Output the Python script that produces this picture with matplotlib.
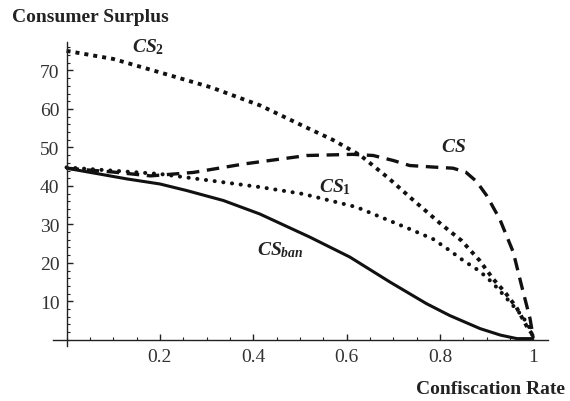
import numpy as np
import matplotlib
matplotlib.use('Agg')
import matplotlib.pyplot as plt
from matplotlib.ticker import MultipleLocator, FixedLocator

plt.rcParams['font.family'] = ['Liberation Serif', 'DejaVu Serif']
plt.rcParams['mathtext.fontset'] = 'custom'
plt.rcParams['mathtext.it'] = 'Liberation Serif:italic:bold'
plt.rcParams['mathtext.rm'] = 'Liberation Serif:bold'
plt.rcParams['lines.scale_dashes'] = False

# curves
cs2_x = [0.0, 0.1, 0.2, 0.31, 0.415, 0.51, 0.57, 0.63, 0.69, 0.74, 0.802, 0.846, 0.885, 0.914, 0.939, 0.964, 0.985, 1.0]
cs2_y = [75.1, 73.0, 69.5, 65.6, 60.9, 55.4, 52.0, 47.9, 42.0, 36.6, 30.1, 25.8, 20.6, 15.8, 12.4, 8.4, 3.7, 1.0]

cs1_x = [0.0, 0.2, 0.307, 0.414, 0.507, 0.621, 0.735, 0.785, 0.821, 0.85, 0.878, 0.9, 0.921, 0.95, 0.978, 0.993, 1.0]
cs1_y = [44.8, 43.1, 41.4, 39.7, 37.9, 34.5, 28.8, 26.2, 23.2, 20.6, 18.4, 16.3, 13.7, 9.8, 5.9, 2.9, 0.5]

cs_x = [0.0, 0.1, 0.18, 0.272, 0.38, 0.515, 0.614, 0.657, 0.7, 0.735, 0.785, 0.828, 0.855, 0.878, 0.9, 0.928, 0.957, 0.975, 0.993, 1.0]
cs_y = [44.6, 43.6, 42.6, 43.5, 45.7, 47.9, 48.2, 47.9, 46.6, 45.3, 44.9, 44.6, 43.6, 41.2, 37.5, 31.4, 22.8, 14.0, 5.5, 0.5]

ban_x = [0.0, 0.13, 0.2, 0.257, 0.336, 0.414, 0.521, 0.607, 0.693, 0.771, 0.821, 0.886, 0.93, 0.965, 1.0]
ban_y = [44.6, 41.8, 40.5, 38.8, 36.2, 32.7, 26.7, 21.5, 15.0, 9.4, 6.3, 2.9, 1.2, 0.3, 0.3]

x_ticks = [0.2, 0.4, 0.6, 0.8, 1.0]
x_labels = ['0.2', '0.4', '0.6', '0.8', '1']
y_ticks = [10, 20, 30, 40, 50, 60, 70]

fig = plt.figure(figsize=(5.7, 4.02), dpi=100)
ax = fig.add_axes([0.093, 0.137, 0.868, 0.756])

ax.plot(cs2_x, cs2_y, color='#111111', lw=2.8, linestyle=(0, (2.9, 3.6)),
        dash_capstyle='butt')
ax.plot(cs1_x, cs1_y, color='#111111', lw=2.9, linestyle=(0, (0.1, 6.2)),
        dash_capstyle='round')
ax.plot(cs_x, cs_y, color='#111111', lw=2.4, linestyle=(0, (9.0, 5.5)),
        dash_capstyle='butt')
ax.plot(ban_x, ban_y, color='#111111', lw=2.2, solid_capstyle='butt')

ax.text(0.175, 76.3, r'$CS_2$', fontsize=14, ha='center', va='center', color='#222222')
ax.text(0.829, 50.3, r'$CS$', fontsize=14, ha='center', va='center', color='#222222')
ax.text(0.575, 40.0, r'$CS_1$', fontsize=14, ha='center', va='center', color='#222222')
ax.text(0.458, 23.6, r'$CS_{ban}$', fontsize=14, ha='center', va='center', color='#222222')

ax.set_xlim(-0.029, 1.031)
ax.set_ylim(-1.6, 77.4)

for side in ['top', 'right']:
    ax.spines[side].set_visible(False)
ax.spines['left'].set_position(('data', 0))
ax.spines['bottom'].set_position(('data', 0))
ax.spines['left'].set_linewidth(1.0)
ax.spines['bottom'].set_linewidth(1.0)
ax.spines['left'].set_color('#222222')
ax.spines['bottom'].set_color('#222222')

ax.xaxis.set_major_locator(FixedLocator(x_ticks))
ax.set_xticklabels(x_labels)
ax.xaxis.set_minor_locator(MultipleLocator(0.05))
ax.yaxis.set_major_locator(FixedLocator(y_ticks))
ax.yaxis.set_minor_locator(MultipleLocator(2))

ax.tick_params(which='both', direction='in', color='#222222', labelsize=14,
               labelcolor='#333333')
ax.tick_params(which='major', length=4, width=1.0)
ax.tick_params(which='minor', length=2.5, width=0.8)
ax.tick_params(axis='x', pad=6)
ax.tick_params(axis='y', pad=5)

fig.text(0.021, 0.957, 'Consumer Surplus', fontsize=14, fontweight='bold',
         ha='left', va='center', color='#222222')
fig.text(0.991, 0.03, 'Confiscation Rate', fontsize=14, fontweight='bold',
         ha='right', va='center', color='#222222')

fig.savefig('out.png', dpi=100)
